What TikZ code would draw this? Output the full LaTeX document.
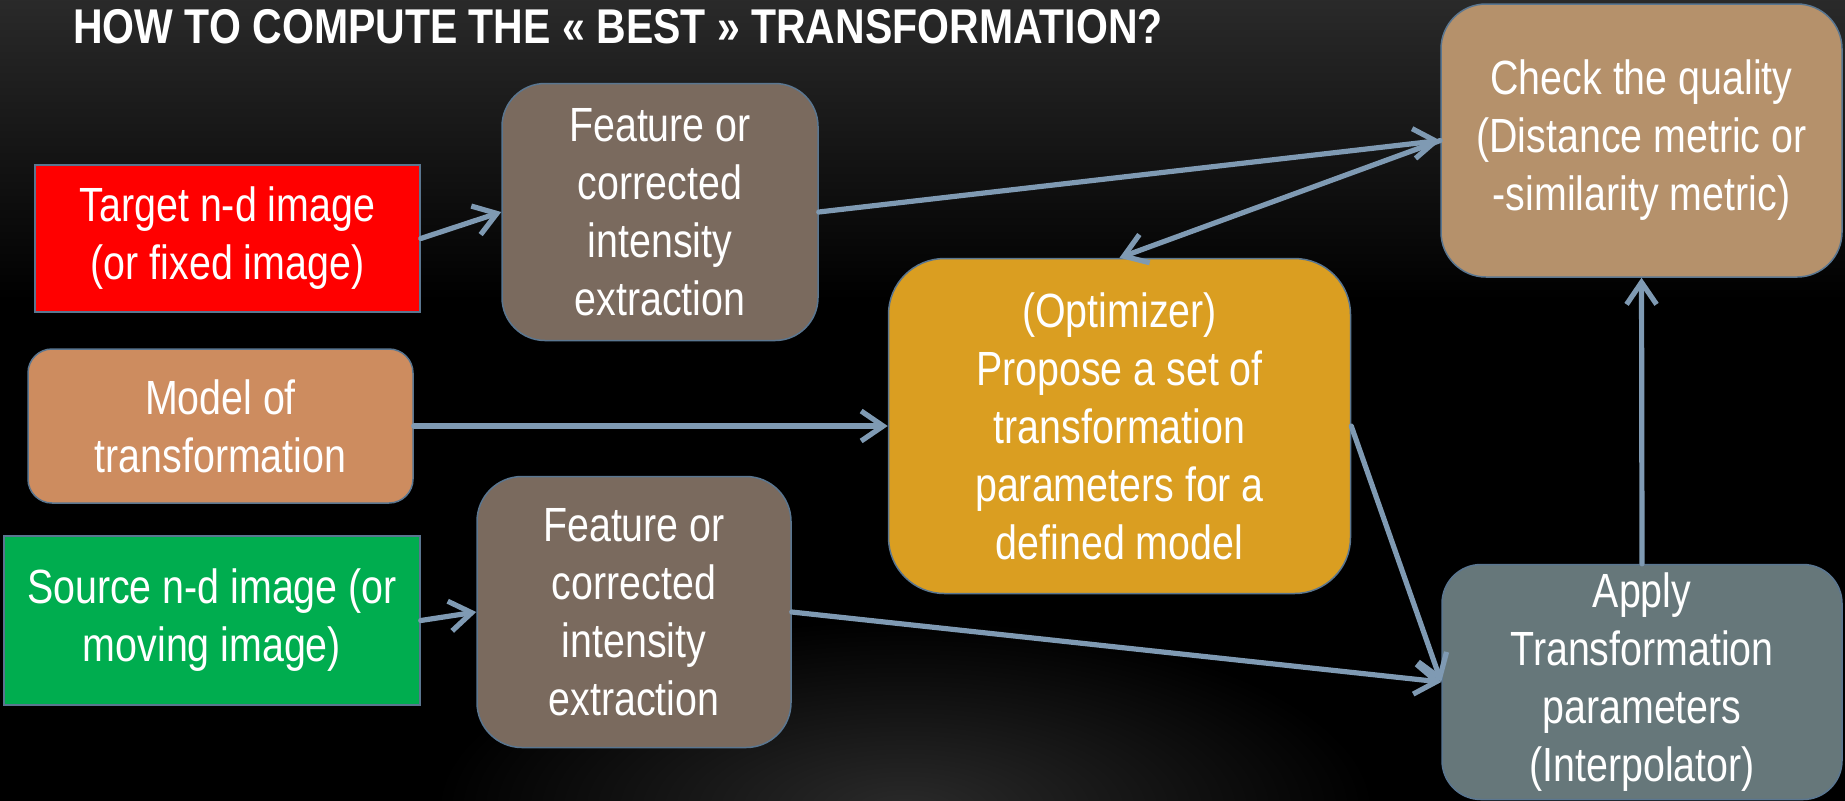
\documentclass[tikz,border=0pt]{standalone}
\usepackage{fontspec}
\setmainfont{Liberation Sans}[FakeStretch=0.82]
\newfontfamily\titlefont{Liberation Sans}[FakeStretch=0.84]
\usetikzlibrary{arrows.meta}
\definecolor{bordercol}{HTML}{5A7690}
\definecolor{arrowcol}{HTML}{7F9AB3}
\definecolor{redbox}{HTML}{FF0000}
\definecolor{featbox}{HTML}{7A6A5E}
\definecolor{checkbox}{HTML}{B5916B}
\definecolor{modelbox}{HTML}{CD8C5F}
\definecolor{optbox}{HTML}{DA9E21}
\definecolor{applybox}{HTML}{66777A}
\definecolor{greenbox}{HTML}{00AD4F}
\definecolor{topgray}{HTML}{2B2B2B}
\definecolor{glowgray}{HTML}{2A2A2A}
\begin{document}
\begin{tikzpicture}[x=0.5pt,y=-0.5pt,
  box/.style={draw=bordercol, line width=0.75pt, text=white, align=center,
    font=\fontsize{24}{29}\selectfont, inner sep=0pt, rectangle},
  conn/.style={draw=arrowcol, line width=2.6pt, line cap=round, line join=round,
    -{Straight Barb[length=11pt,width=15pt]}}
]
\useasboundingbox (0,0) rectangle (1845,800);
% background
\fill[black] (-10,-10) rectangle (1855,810);
\shade[top color=topgray, bottom color=black] (-10,-10) rectangle (1855,300);
\begin{scope}
\clip (-10,-10) rectangle (1855,810);
\shade[inner color=glowgray, outer color=black] (905,810) ellipse [x radius=470, y radius=190];
\end{scope}
% title
\node[anchor=base west, text=white, inner sep=0pt, font=\titlefont\bfseries\fontsize{24.4}{29}\selectfont] (title) at (73,43) {HOW TO COMPUTE THE « BEST » TRANSFORMATION?};
% boxes
\node[box, fill=redbox, minimum width=192.5pt, minimum height=73.5pt] (target) at (227.5,238.5) {Target n-d image\\(or fixed image)};
\node[box, fill=featbox, rounded corners=21.5pt, minimum width=158pt, minimum height=128.5pt] (feat1) at (660,212) {Feature or\\corrected\\intensity\\extraction};
\node[box, fill=checkbox, rounded corners=22.5pt, minimum width=200.5pt, minimum height=136.5pt] (check) at (1641.5,140.5) {Check the quality\\(Distance metric or\\-similarity metric)};
\node[box, fill=modelbox, rounded corners=12pt, minimum width=192.5pt, minimum height=77pt] (model) at (220.5,426) {Model of\\transformation};
\node[box, fill=optbox, rounded corners=28pt, minimum width=231pt, minimum height=167.5pt] (opt) at (1119.5,426) {(Optimizer)\\Propose a set of\\transformation\\parameters for a\\defined model};
\node[box, fill=featbox, rounded corners=22.5pt, minimum width=157pt, minimum height=135.5pt] (feat2) at (634,612) {Feature or\\corrected\\intensity\\extraction};
\node[box, fill=greenbox, minimum width=208pt, minimum height=84.5pt] (source) at (212,620.5) {Source n-d image (or\\moving image)};
\node[box, fill=applybox, rounded corners=19.5pt, minimum width=200pt, minimum height=117.5pt] (apply) at (1642,682) {Apply\\Transformation\\parameters\\(Interpolator)};
% connectors
\draw[conn] (target.east) -- (feat1.west);
\draw[conn] (feat1.east) -- (check.west);
\draw[conn] (check.west) -- (opt.north);
\draw[conn] (model.east) -- (opt.west);
\draw[conn] (source.east) -- (feat2.west);
\draw[conn] (feat2.east) -- (apply.west);
\draw[conn] (opt.east) -- (apply.west);
\draw[conn] (apply.north) -- (check.south);
\end{tikzpicture}
\end{document}
